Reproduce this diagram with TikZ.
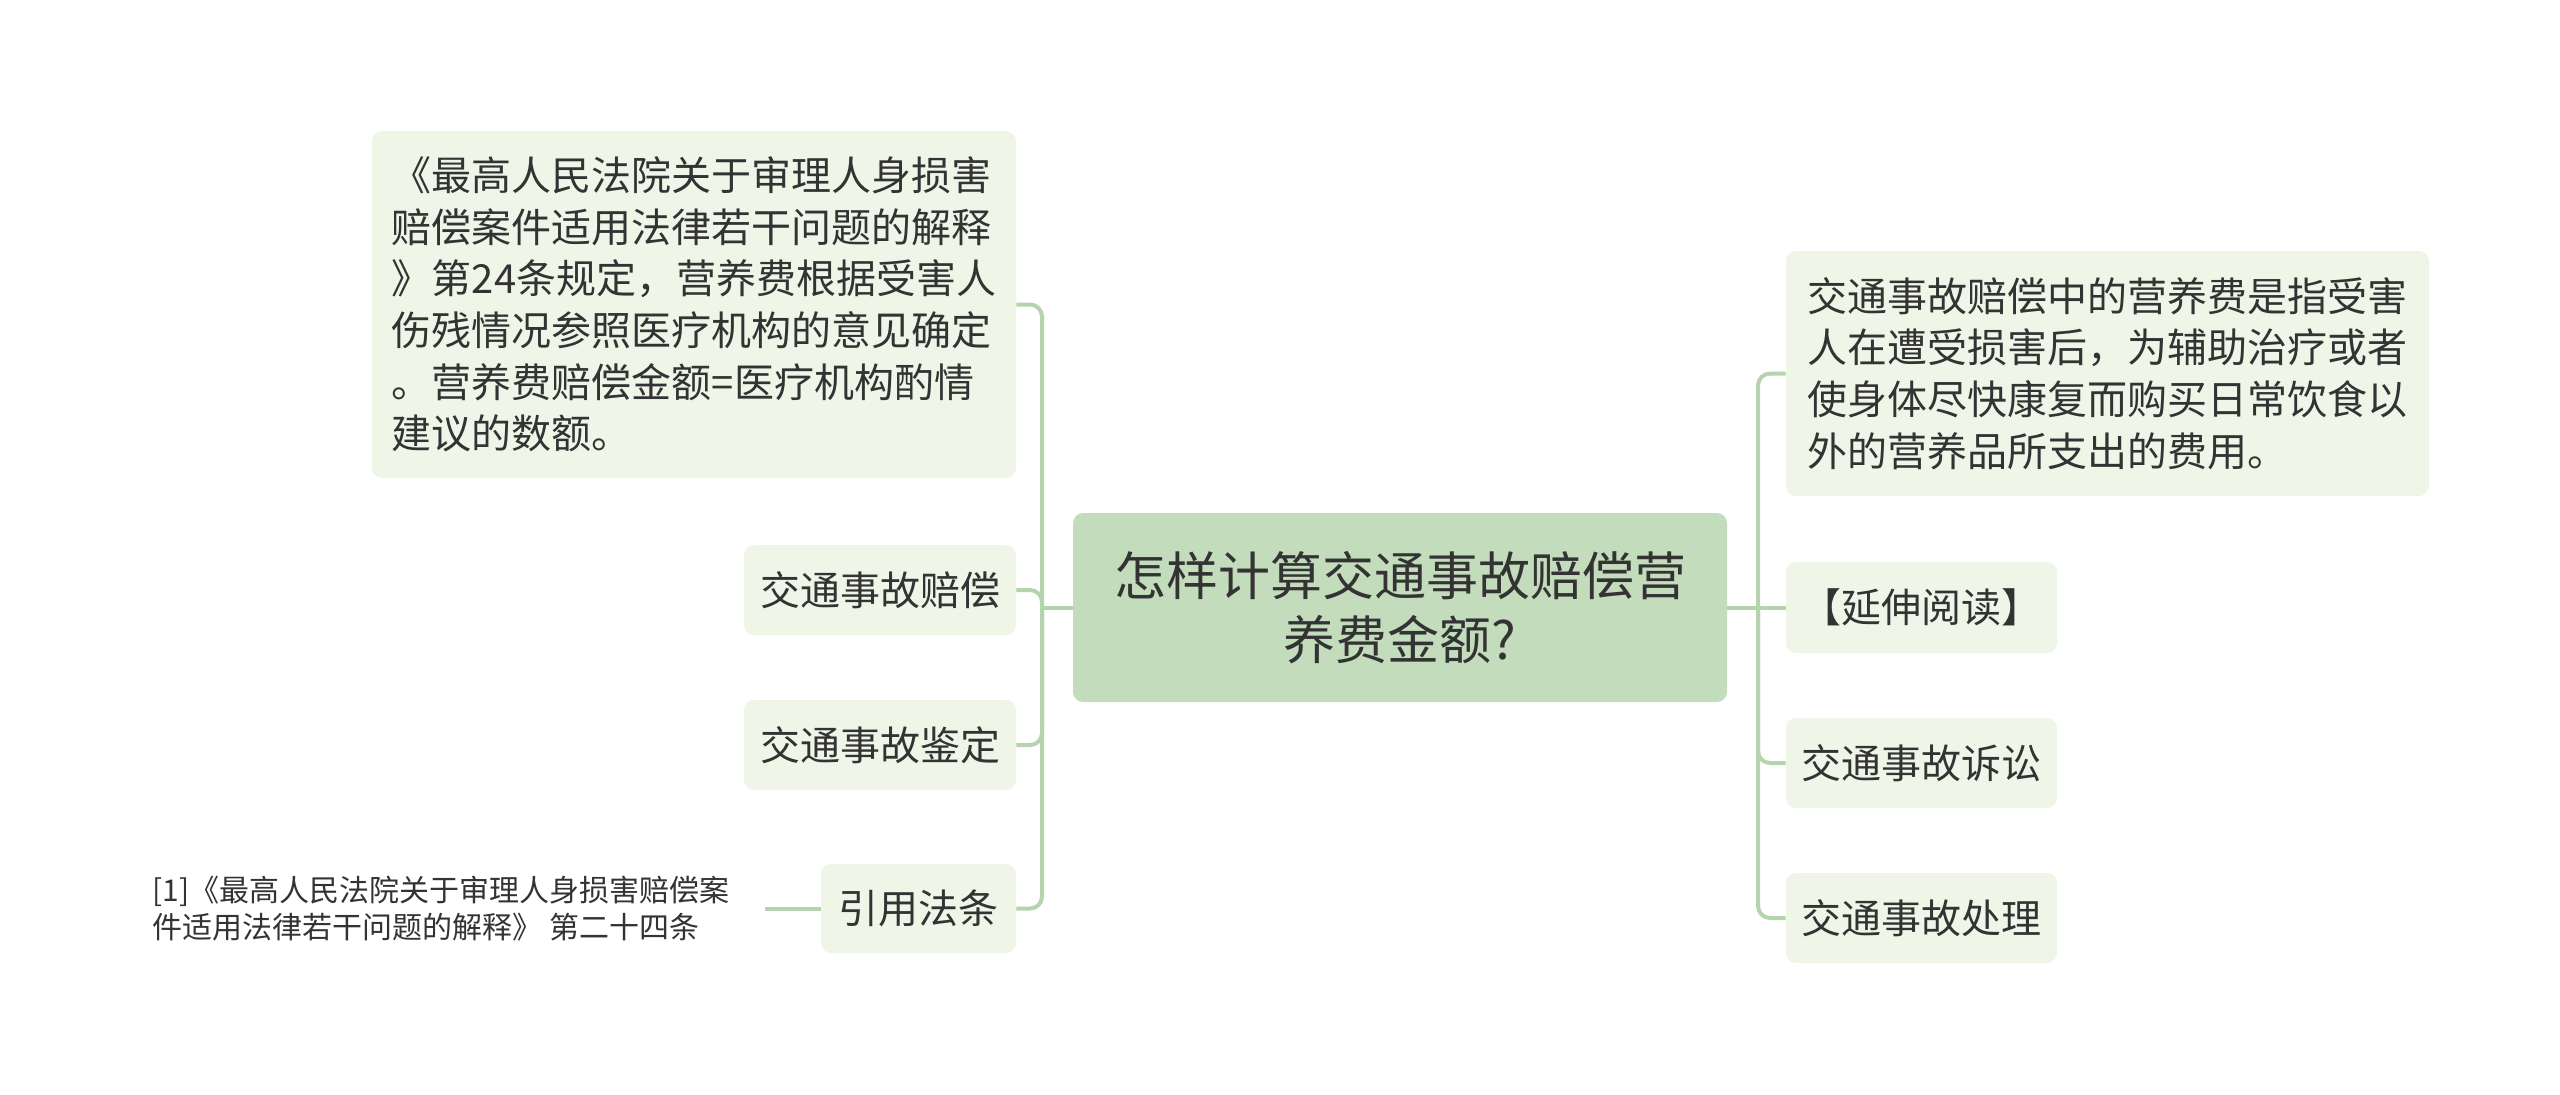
\documentclass[tikz,border=0pt]{standalone}
\usepackage{fontspec}
\setmainfont{Noto Sans CJK SC}
\usepackage{xcolor}
\usetikzlibrary{positioning}

\definecolor{rootfill}{HTML}{C2DCBC}
\definecolor{leaffill}{HTML}{EFF6E8}
\definecolor{linkgreen}{HTML}{B5D4AD}
\definecolor{inktext}{HTML}{333333}

\begin{document}
\begin{tikzpicture}[x=0.5pt,y=-0.5pt]
\tikzstyle{topic}=[rectangle, rounded corners=5pt, fill=rootfill, text=inktext, font=\fontsize{26}{32}\selectfont, align=center, inner sep=0pt]
\tikzstyle{leaf}=[rectangle, rounded corners=5pt, fill=leaffill, text=inktext, font=\fontsize{20}{25.8}\selectfont, align=left, inner sep=0pt]
\tikzstyle{note}=[text=inktext, font=\fontsize{15}{18.8}\selectfont, align=left, inner xsep=17.5pt, inner ysep=0pt]
\tikzstyle{link}=[draw=linkgreen, line width=2pt, rounded corners=6pt]

\useasboundingbox (0,0) rectangle (2560,1094);

% root
\node[topic, minimum width=327pt, minimum height=94.5pt] (root) at (1400,607.5) {怎样计算交通事故赔偿营\\养费金额?};

% left side
\node[leaf, minimum width=322pt, minimum height=173.5pt] (rule) at (694,304.5) {《最高人民法院关于审理人身损害\\赔偿案件适用法律若干问题的解释\\》第24条规定，营养费根据受害人\\伤残情况参照医疗机构的意见确定\\。营养费赔偿金额=医疗机构酌情\\建议的数额。};
\node[leaf, minimum width=136pt, minimum height=45pt] (pay) at (880,590) {交通事故赔偿};
\node[leaf, minimum width=136pt, minimum height=45pt] (ident) at (880,745) {交通事故鉴定};
\node[leaf, minimum width=97.5pt, minimum height=44.5pt] (cite) at (918.5,908.5) {引用法条};
\node[note, anchor=east] (law) at (765,908.5) {[1]《最高人民法院关于审理人身损害赔偿案\\件适用法律若干问题的解释》 第二十四条};

% right side
\node[leaf, minimum width=321.5pt, minimum height=122.5pt] (meaning) at (2107.5,373.5) {交通事故赔偿中的营养费是指受害\\人在遭受损害后，为辅助治疗或者\\使身体尽快康复而购买日常饮食以\\外的营养品所支出的费用。};
\node[leaf, minimum width=135.5pt, minimum height=45.5pt] (more) at (1921.5,607.5) {【延伸阅读】};
\node[leaf, minimum width=135.5pt, minimum height=45pt] (suit) at (1921.5,763) {交通事故诉讼};
\node[leaf, minimum width=135.5pt, minimum height=45pt] (handle) at (1921.5,918) {交通事故处理};

\coordinate (lspine) at (1042,607.5);
\coordinate (rspine) at (1758,607.5);

\draw[link] (root.west) -- (lspine);
\draw[link] (lspine) |- (rule.east);
\draw[link] (lspine) |- (pay.east);
\draw[link] (lspine) |- (ident.east);
\draw[link] (lspine) |- (cite.east);
\draw[link] (cite.west) -- (law.east);

\draw[link] (root.east) -- (rspine);
\draw[link] (rspine) |- (meaning.west);
\draw[link] (rspine) -- (more.west);
\draw[link] (rspine) |- (suit.west);
\draw[link] (rspine) |- (handle.west);
\end{tikzpicture}
\end{document}
